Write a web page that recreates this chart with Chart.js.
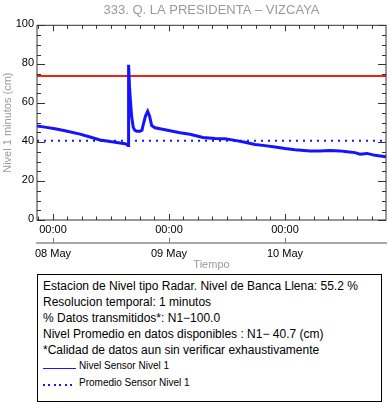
<!DOCTYPE html>
<html>
<head>
<meta charset="utf-8">
<script src="https://cdn.jsdelivr.net/npm/chart.js@4.4.0/dist/chart.umd.min.js"></script>
<style>
  body { margin: 0; background: #fff; }
  #wrap { position: relative; width: 388px; height: 404px; font-family: "Liberation Sans", Arial, sans-serif; }
  #grafica { position: absolute; left: 0; top: 0; }
  #info {
    position: absolute; left: 37px; top: 274px; width: 345px; height: 128px;
    box-sizing: border-box; border: 1px solid #000; padding: 3px 0 0 5px;
    font-size: 12px; line-height: 16px; color: #000;
  }
  .fila-leyenda { font-size: 10px; line-height: 16.5px; }
  .muestra { display: inline-block; width: 33px; height: 1.5px; margin-right: 3px; vertical-align: baseline; }
  .solida { background: #1414ff; }
  .punteada { background: repeating-linear-gradient(to right, #1414ff 0 2px, transparent 2px 5.5px); height: 2px; }
</style>
</head>
<body>
<div id="wrap">
  <canvas id="grafica" width="388" height="273"></canvas>
  <div id="info">
    <div>Estacion de Nivel tipo Radar. Nivel de Banca Llena: 55.2 %</div>
    <div>Resolucion temporal: 1 minutos</div>
    <div>% Datos transmitidos*: N1&minus;100.0</div>
    <div>Nivel Promedio en datos disponibles : N1&minus; 40.7 (cm)</div>
    <div>*Calidad de datos aun sin verificar exhaustivamente</div>
    <div class="fila-leyenda"><span class="muestra solida"></span>Nivel Sensor Nivel 1</div>
    <div class="fila-leyenda"><span class="muestra punteada"></span>Promedio Sensor Nivel 1</div>
  </div>
</div>
<script>
const titulo = "333. Q. LA PRESIDENTA \u2013 VIZCAYA";

// horas desde 08 May 00:00
const horas = [-3.31, -1.66, 0.41, 2.48, 5.59, 7.66, 9.72, 11.79, 13.86, 14.9, 15.31, 15.52,
  15.64, 15.83, 16.03, 16.28, 16.61, 16.97, 17.38, 18.0, 18.41, 18.62, 19.14, 19.59, 19.97,
  20.42, 21.1, 22.14, 24.21, 26.28, 28.34, 31.03, 33.52, 35.59, 37.66, 39.72, 41.79, 43.86,
  45.93, 48.0, 50.07, 53.17, 55.24, 57.31, 59.38, 60.83, 62.48, 63.52, 64.97, 66.62, 68.9];
const nivel = [48.3, 47.7, 46.9, 45.8, 44.1, 42.6, 41.1, 40.3, 39.6, 39.2, 38.8, 38.2,
  79.7, 68.5, 61.0, 53.0, 47.5, 46.0, 45.6, 45.6, 46.1, 48.5, 53.4, 55.8, 53.4,
  48.5, 47.4, 46.9, 45.8, 44.8, 44.0, 42.4, 41.8, 41.7, 40.9, 39.9, 38.8, 38.2,
  37.5, 36.7, 36.1, 35.5, 35.4, 35.7, 35.5, 35.1, 34.6, 33.8, 34.2, 33.2, 32.5];

const bancaLlena = 74;
const promedio = 40.7;
const rangoX = [-3.31, 68.9];
const rangoY = [0, 100];

const ticksDias = [0, 24, 48];
const etiquetasHora = ["00:00", "00:00", "00:00"];
const etiquetasDia = ["08 May", "09 May", "10 May"];
const ticksY = [0, 20, 40, 60, 80, 100];

const gris = "#9a9a9a";

// marco del grafico y marcas hacia adentro (estilo IDL)
const marcas = {
  id: "marcas",
  afterDatasetsDraw(chart) {
    const { ctx, chartArea: a, scales } = chart;
    const x = scales.x, y = scales.y, x2 = scales.x2;
    ctx.save();
    ctx.strokeStyle = "#333";
    ctx.lineWidth = 1;
    ctx.strokeRect(a.left, a.top, a.right - a.left, a.bottom - a.top);
    ctx.beginPath();
    for (let v = rangoY[0]; v <= rangoY[1]; v += 5) {
      const py = Math.round(y.getPixelForValue(v)) + 0.5;
      const largo = v % 20 === 0 ? 8 : 4;
      ctx.moveTo(a.left, py); ctx.lineTo(a.left + largo, py);
      ctx.moveTo(a.right, py); ctx.lineTo(a.right - largo, py);
    }
    for (let h = -3; h <= rangoX[1]; h += 3) {
      if (h < rangoX[0]) continue;
      const px = Math.round(x.getPixelForValue(h)) + 0.5;
      const largo = h % 24 === 0 ? 6 : 3.5;
      ctx.moveTo(px, a.bottom); ctx.lineTo(px, a.bottom - largo);
      ctx.moveTo(px, a.top); ctx.lineTo(px, a.top + largo);
    }
    ctx.stroke();
    ctx.strokeStyle = "#777";
    ctx.beginPath();
    ticksDias.forEach(function (h) {
      const px = Math.round(x2.getPixelForValue(h)) + 0.5;
      ctx.moveTo(px, x2.top); ctx.lineTo(px, x2.top - 5);
    });
    ctx.stroke();
    ctx.restore();
  }
};

const fuenteTicks = { family: "'Liberation Sans', Arial, sans-serif", size: 11 };

new Chart(document.getElementById("grafica"), {
  type: "line",
  data: {
    datasets: [
      {
        label: "Nivel Sensor Nivel 1",
        data: horas.map((h, i) => ({ x: h, y: nivel[i] })),
        borderColor: "#1414ff",
        borderWidth: 3,
        pointRadius: 0,
        tension: 0
      },
      {
        label: "Banca Llena",
        data: rangoX.map((h) => ({ x: h, y: bancaLlena })),
        borderColor: "#ee2211",
        borderWidth: 2,
        pointRadius: 0
      },
      {
        label: "Promedio Sensor Nivel 1",
        data: rangoX.map((h) => ({ x: h, y: promedio })),
        borderColor: "#1414ff",
        borderWidth: 2,
        borderDash: [2, 5],
        pointRadius: 0
      }
    ]
  },
  options: {
    responsive: false,
    animation: false,
    layout: { padding: { left: 0, right: 2, top: 0, bottom: 0 } },
    plugins: {
      legend: { display: false },
      tooltip: { enabled: false },
      title: {
        display: true,
        text: titulo,
        color: gris,
        fullSize: false,
        font: { family: "'Liberation Sans', Arial, sans-serif", size: 13, weight: "normal" },
        padding: { top: 3, bottom: 6.7 }
      }
    },
    scales: {
      x: {
        type: "linear",
        position: "bottom",
        min: rangoX[0],
        max: rangoX[1],
        afterBuildTicks: (s) => { s.ticks = ticksDias.map((v) => ({ value: v })); },
        afterFit: (s) => { s.height = 23; },
        grid: { display: false, drawTicks: false },
        border: { display: false },
        ticks: {
          color: "#000",
          font: fuenteTicks,
          padding: 3.4,
          maxRotation: 0,
          callback: (v, i) => etiquetasHora[i]
        }
      },
      x2: {
        type: "linear",
        position: "bottom",
        min: rangoX[0],
        max: rangoX[1],
        afterBuildTicks: (s) => { s.ticks = ticksDias.map((v) => ({ value: v })); },
        afterFit: (s) => { s.height = 30; },
        grid: { display: false, drawTicks: false },
        border: { display: true, color: "#a8a8a8", width: 2 },
        ticks: {
          color: "#000",
          font: fuenteTicks,
          padding: 4.4,
          maxRotation: 0,
          callback: (v, i) => etiquetasDia[i]
        },
        title: {
          display: true,
          text: "Tiempo",
          color: gris,
          font: fuenteTicks,
          padding: { top: 0, bottom: 1.4 }
        }
      },
      y: {
        min: rangoY[0],
        max: rangoY[1],
        afterBuildTicks: (s) => { s.ticks = ticksY.map((v) => ({ value: v })); },
        afterFit: (s) => { s.width = 37; },
        grid: { display: false, drawTicks: false },
        border: { display: false },
        ticks: {
          color: "#000",
          font: fuenteTicks,
          padding: 3,
          labelOffset: -1
        },
        title: {
          display: true,
          text: "Nivel 1 minutos (cm)",
          color: gris,
          font: fuenteTicks,
          padding: { top: 1.4, bottom: 0 }
        }
      }
    }
  },
  plugins: [marcas]
});
</script>
</body>
</html>
